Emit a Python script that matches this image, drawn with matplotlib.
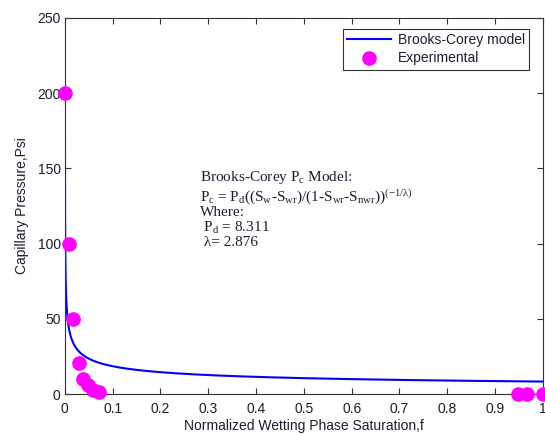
import numpy as np
import matplotlib as mpl
mpl.use("Agg")
import matplotlib.pyplot as plt

# Brooks-Corey fit parameters
Pd = 8.311
lam = 2.876

# Experimental capillary pressure data
sw_exp = [0.0, 0.008, 0.017, 0.030, 0.039, 0.048, 0.059, 0.072, 0.948, 0.967, 1.0]
pc_exp = [200, 100, 50, 20.5, 10, 6, 2.8, 1.2, 0, 0, 0]

# model curve, evaluated up to Pc = 200 at the low-saturation end
s_min = (200.0 / Pd) ** (-lam)
sw_mod = np.geomspace(s_min, 1.0, 800)
pc_mod = Pd * sw_mod ** (-1.0 / lam)

mpl.rcParams['font.family'] = ['Liberation Sans', 'DejaVu Sans']
mpl.rcParams['mathtext.fontset'] = 'custom'
mpl.rcParams['mathtext.rm'] = 'Liberation Serif'
mpl.rcParams['mathtext.it'] = 'Liberation Serif'

txtc = '#1c1c30'

fig = plt.figure(figsize=(5.45, 4.34), dpi=100)
ax = fig.add_axes([0.119, 0.092, 0.877, 0.867])

ax.plot(sw_mod, pc_mod, color='#0000ff', lw=1.5, label='Brooks-Corey model', zorder=2)
ax.plot(sw_exp, pc_exp, 'o', color='#ff00ff', ms=9.5, mec='#ff00ff',
        label='Experimental', clip_on=False, zorder=3)

ax.set_xlim(0, 1)
ax.set_ylim(0, 250)
ax.set_xticks(np.arange(0, 1.01, 0.1))
ax.set_xticklabels(['0', '0.1', '0.2', '0.3', '0.4', '0.5', '0.6', '0.7', '0.8', '0.9', '1'])
ax.set_yticks(np.arange(0, 251, 50))
ax.tick_params(direction='in', top=True, right=True, length=4, width=0.8,
               labelsize=10, labelcolor=txtc, colors='#333333')
ax.tick_params(axis='x', pad=6)
ax.tick_params(axis='y', pad=3)
for sp in ax.spines.values():
    sp.set_color('#333333')
    sp.set_linewidth(0.8)

ax.set_xlabel('Normalized Wetting Phase Saturation,f', fontsize=10, color=txtc, labelpad=2)
ax.set_ylabel('Capillary Pressure,Psi', fontsize=10, color=txtc, labelpad=6)

leg = ax.legend(loc='upper right', bbox_to_anchor=(0.972, 0.97), fontsize=10,
                frameon=True, fancybox=False, borderaxespad=0, handlelength=3.2,
                labelspacing=0.3, borderpad=0.3, handletextpad=0.5)
leg.get_frame().set_edgecolor('black')
leg.get_frame().set_linewidth(0.8)
for t in leg.get_texts():
    t.set_color(txtc)

note = ('Brooks-Corey P$_\\mathrm{c}$ Model:\n'
        'P$_\\mathrm{c}$ = P$_\\mathrm{d}$((S$_\\mathrm{w}$-S$_\\mathrm{wr}$)/'
        '(1-S$_\\mathrm{wr}$-S$_\\mathrm{nwr}$))$^{\\mathrm{(-1/\u03bb)}}$\n'
        'Where:\n'
        ' P$_\\mathrm{d}$ = %.3f\n'
        ' \u03bb= %.3f' % (Pd, lam))
ax.text(0.283, 0.598, note, transform=ax.transAxes, fontsize=11,
        family=['Liberation Serif', 'DejaVu Serif'], color=txtc,
        va='top', ha='left', linespacing=1.05)

plt.savefig('out.png', dpi=100)
